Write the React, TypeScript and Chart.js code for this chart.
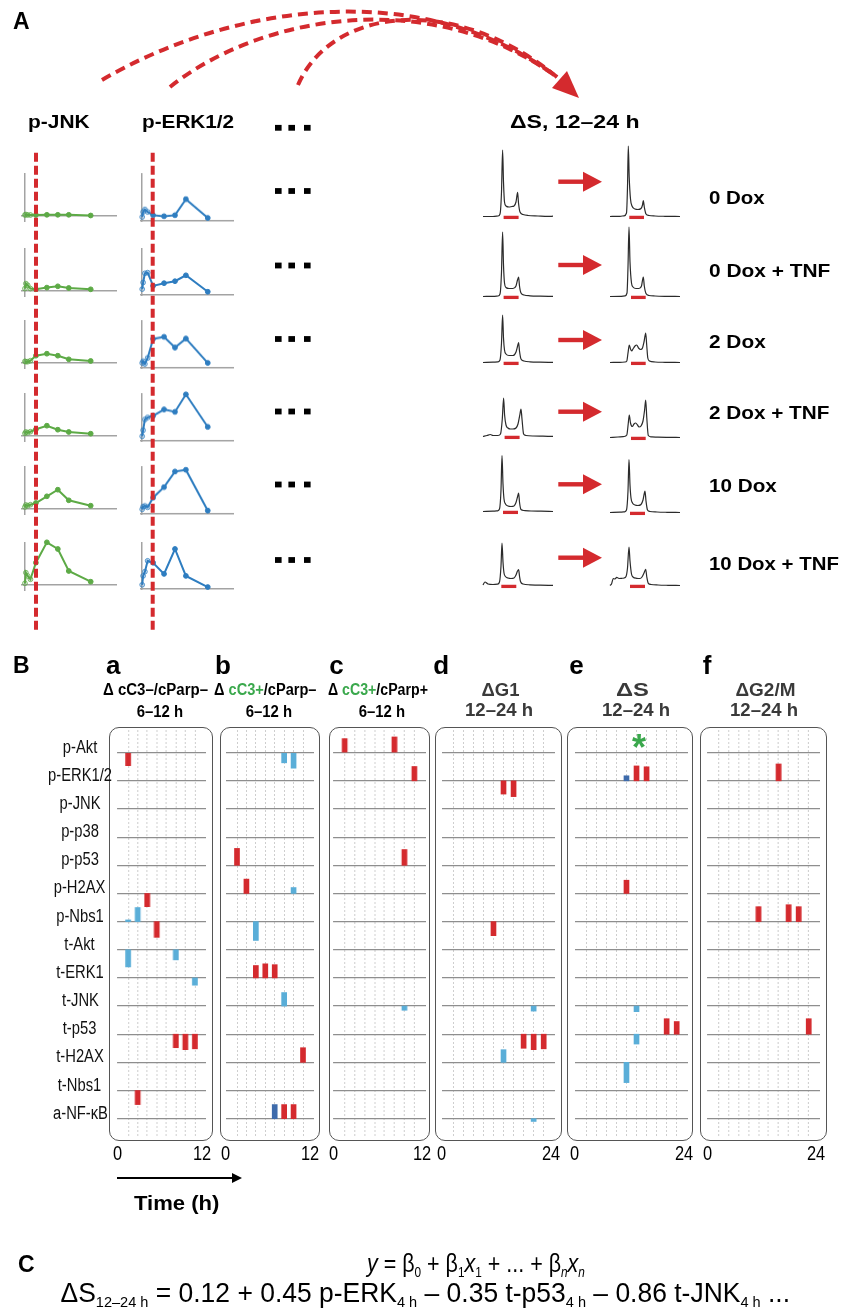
import React, { useEffect, useLayoutEffect, useRef } from "react";
import { Chart, registerables } from "chart.js";

Chart.register(...registerables);

// ---------------- colours ----------------
const RED = "#d42a2e";
const GREEN = "#5daa46";
const BLUE = "#2e7dc0";
const AXIS_GRAY = "#a3a3a3";
const LIGHT_BLUE = "#5aaed8";
const DARK_BLUE = "#3e6bab";
const TXT_GREEN = "#3aa84c";
const FONT = '"Liberation Sans", Arial, Helvetica, sans-serif';

// ---------------- Panel A : signalling time courses ----------------
const CONDITIONS = ["0 Dox", "0 Dox + TNF", "2 Dox", "2 Dox + TNF", "10 Dox", "10 Dox + TNF"];
const TIME_POS = [0, 0.083, 0.25, 0.5, 1, 2, 3, 4, 6];
const P_JNK = [
  [0.1, 0.15, 0.1, 0.1, 0.1, 0.12, 0.12, 0.12, 0.05],
  [0.24, 0.74, 0.57, 0.24, 0.17, 0.34, 0.47, 0.3, 0.17],
  [0.17, 0.13, 0.13, 0.23, 0.73, 0.93, 0.73, 0.37, 0.2],
  [0.27, 0.4, 0.33, 0.43, 0.67, 1.03, 0.63, 0.4, 0.23],
  [0.2, 0.4, 0.33, 0.43, 0.6, 1.27, 1.93, 0.87, 0.33],
  [0.17, 1.23, 0.9, 0.57, 2.23, 4.27, 3.6, 1.4, 0.33],
];
const P_ERK = [
  [0.4, 0.9, 1.14, 0.9, 0.57, 0.47, 0.57, 2.17, 0.3],
  [0.6, 1.27, 2.2, 2.27, 0.93, 1.2, 1.4, 2.0, 0.33],
  [0.5, 0.67, 0.4, 1.0, 2.9, 3.1, 2.03, 2.93, 0.5],
  [0.47, 1.07, 2.14, 2.34, 2.5, 3.14, 2.9, 4.64, 1.4],
  [0.47, 0.73, 0.8, 0.67, 1.63, 2.67, 4.23, 4.4, 0.33],
  [0.43, 1.33, 1.76, 2.86, 2.66, 1.53, 4.06, 1.33, 0.2],
];

// ---------------- Panel A : DNA-content histograms [DNA content, count] ----------------
const HIST_12H = [
  [[0,0.5],[10,0.5],[15,1],[17,3],[18.5,25],[19.6,67],[20.5,35],[21.5,15],[23,11],[26,10],[29,10.5],[31,11],[33,15],[34.6,24.6],[35.5,14],[37,5],[40,2.5],[45,1.5],[55,1],[65,0.6],[70,0.8]],
  [[0,0.5],[10,0.7],[15,1],[17,3],[18.5,25],[19.6,65],[20.5,32],[21.5,14],[23,9.5],[26,8.5],[30,8.5],[33,11],[34.5,17],[35.6,20],[36.5,11],[38,4],[41,2],[47,1.2],[57,0.8],[70,0.6]],
  [[0,0.5],[10,0.8],[15,1.2],[17,3],[18.5,20],[19.6,48],[20.5,25],[21.5,13],[23,9],[26,7.5],[30,7.5],[33,11],[34.6,17],[35.6,20.5],[36.5,12],[38,4],[41,2],[47,1.2],[57,0.8],[70,0.6]],
  [[0,0.5],[4,1.5],[7.3,2.5],[10,1.5],[15,1.5],[17.5,3],[19.3,18],[20.6,39],[21.6,22],[23,12],[25,9],[27.3,8],[30,8],[33,9],[35,13],[36.8,22],[38,28],[39,18],[40.6,3],[43,1.5],[50,1],[60,0.8],[70,0.6]],
  [[0,0.5],[10,0.8],[14.5,1.2],[16.5,3],[18,22],[19,56.5],[20,28],[21,13],[22.5,8],[25,6],[28,5.5],[31,6],[33,9.5],[34.5,15],[35.6,19],[36.6,9],[38,2.5],[41,1.5],[48,1],[58,0.8],[70,0.5]],
  [[0,1],[2,4],[5,2],[10,1.5],[14.5,1.8],[16.5,4],[18,20],[19,43],[20,24],[21,13],[22.5,9.5],[25,8],[28,7.5],[31,8],[33,11],[34.5,15],[35.6,16.5],[36.5,10],[37.5,4.5],[40,2],[47,1.2],[57,0.8],[70,0.6]],
];
const HIST_24H = [
  [[0,0.5],[10,0.7],[14,1.2],[16.5,4],[17.5,30],[18.3,71],[19.2,40],[20.5,18],[22,11],[25,8],[28,7.5],[31,8.5],[32.5,12],[33.3,16.5],[34.3,10],[36,3],[39,1.5],[45,1],[55,0.7],[70,0.5]],
  [[0,0.5],[10,0.6],[15,1.2],[17,4],[18,30],[19,70],[20,35],[21.5,14],[23,10],[26,8.5],[29,8.5],[31.5,11],[33.3,20],[34.3,11],[36,3.5],[39,1.5],[45,1],[55,0.7],[70,0.5]],
  [[0,0.5],[10,0.7],[15,1],[16.8,2],[18,10],[19.3,18],[20.5,14],[21.7,12],[23,14],[25,17],[26.7,18],[28.5,15],[30.7,13.5],[32.5,15],[34,21],[35.7,30],[36.7,18],[37.8,5],[39.5,2],[45,1],[55,0.7],[70,0.5]],
  [[0,0.5],[8,1],[14,1.5],[16.8,3],[18.2,14],[19.3,23],[20.5,15],[22.3,11.5],[24,14],[25.7,15],[27.5,13],[29,11],[31,12],[33,17],[34.6,28],[35.7,38],[36.8,20],[38.3,2.5],[41,1.2],[48,0.8],[58,0.6],[70,0.5]],
  [[0,0.5],[10,0.8],[14.5,1.2],[16.5,3],[18,22],[19,53.5],[20,28],[21,15],[22.5,10],[25,8],[28,7.5],[31,8.5],[33,13],[34.2,19],[35,22],[36,12],[37.5,3],[40,1.5],[47,1],[57,0.7],[70,0.5]],
  [[0,0.5],[1.5,2],[3.3,7.5],[5,7],[6.7,8.7],[9,7.5],[11.7,7.7],[14,8],[16,9.5],[17.5,18],[19,39],[20,25],[21.5,12],[23,9],[26.7,7.7],[30,7.5],[32,9],[34,13],[35.7,16.7],[36.8,9],[38.3,2.7],[41,1.5],[48,1],[58,0.7],[70,0.5]],
];
const S_GATE_12H = [[20.6,35.6],[20.6,35.6],[20.6,35.6],[21.6,36.6],[20,35],[18.3,33.3]];
const S_GATE_24H = [[19.3,34],[21,35.7],[21,35.7],[21,35.7],[20,35],[20,35]];

// ---------------- Panel B : regression coefficients ----------------
const ROW_LABELS = ["p-Akt","p-ERK1/2","p-JNK","p-p38","p-p53","p-H2AX","p-Nbs1","t-Akt","t-ERK1","t-JNK","t-p53","t-H2AX","t-Nbs1","a-NF-κB"];
const PANEL_LETTERS = ["a","b","c","d","e","f"];
const AXIS_END = ["12","12","12","24","24","24"];
const TIME_BINS = [8, 8, 8, 10, 10, 10];
// [row, time bin, coefficient (+ up / − down), colour: r red, b light blue, d dark blue]
const BARS_A = [[0,0,-0.46,"r"],[5,2,-0.47,"r"],[6,0,0.06,"b"],[6,1,0.5,"b"],[6,3,-0.56,"r"],[7,0,-0.61,"b"],[7,5,-0.36,"b"],[8,7,-0.26,"b"],[10,5,-0.48,"r"],[10,6,-0.55,"r"],[10,7,-0.52,"r"],[12,1,-0.5,"r"]];
const BARS_B = [[0,5,-0.36,"b"],[0,6,-0.55,"b"],[4,0,0.6,"r"],[5,1,0.51,"r"],[5,6,0.21,"b"],[6,2,-0.67,"b"],[8,2,0.44,"r"],[8,3,0.5,"r"],[8,4,0.47,"r"],[9,5,0.48,"b"],[11,7,0.52,"r"],[13,4,0.5,"d"],[13,5,0.5,"r"],[13,6,0.5,"r"]];
const BARS_C = [[0,0,0.5,"r"],[0,5,0.56,"r"],[1,7,0.51,"r"],[4,6,0.56,"r"],[9,6,-0.15,"b"]];
const BARS_D = [[1,5,-0.47,"r"],[1,6,-0.56,"r"],[6,4,-0.5,"r"],[9,8,-0.18,"b"],[10,7,-0.5,"r"],[10,8,-0.55,"r"],[10,9,-0.52,"r"],[11,5,0.45,"b"],[13,8,-0.1,"b"]];
const BARS_E = [[1,4,0.18,"d"],[1,5,0.53,"r"],[1,6,0.5,"r"],[5,4,0.47,"r"],[9,5,-0.2,"b"],[10,5,-0.35,"b"],[10,8,0.55,"r"],[10,9,0.45,"r"],[11,4,-0.72,"b"]];
const BARS_F = [[1,6,0.6,"r"],[6,4,0.53,"r"],[6,7,0.6,"r"],[6,8,0.53,"r"],[10,9,0.55,"r"]];
const ALL_BARS = [BARS_A, BARS_B, BARS_C, BARS_D, BARS_E, BARS_F];
const BAR_COLORS: any = { r: RED, b: LIGHT_BLUE, d: DARK_BLUE };

// ---------------- layout ----------------
const ROW_TOPS = [173, 247.7, 320, 393.3, 466, 541.7];
const HIST_BASE_L = [217.3, 296.7, 363.3, 437.3, 511.7, 586];
const HIST_BASE_R = [217.3, 296.7, 362.7, 438.3, 512.7, 586];
const LABEL_Y = [197.3, 270, 341.7, 412, 485.3, 563.7];
const LABEL_W = [56, 121, 57, 120, 67.5, 130];
const ARROW_Y = [181.7, 265, 340, 411.7, 484.3, 557.7];
const DOTS_Y = [191, 265.5, 339, 411.5, 484.5, 560];
const PLOTS = [[117.3, 206], [225.7, 314.3], [333.3, 426], [441.7, 555], [575, 688.3], [707.3, 820]];
const BOXES = [[109, 212.7], [220, 320], [329, 430], [435, 561.7], [567.3, 693.3], [700, 827.3]];
const LETTER_X = [106, 215, 329.3, 433.3, 569.3, 702.7];
const B_TOP = 730, B_BOTTOM = 1137, ROW0 = 752.7, ROW_PITCH = 28.15;

const baseOptions = (pad: number) => ({
  animation: false,
  responsive: false,
  maintainAspectRatio: false,
  events: [],
  layout: { padding: pad, autoPadding: false },
  plugins: { legend: { display: false }, tooltip: { enabled: false }, title: { display: false } },
});

function MiniChart({ left, top, width, height, make }: any) {
  const ref = useRef<HTMLCanvasElement>(null);
  useEffect(() => {
    const chart = new Chart(ref.current as HTMLCanvasElement, make());
    return () => chart.destroy();
  }, []);
  return <canvas ref={ref} width={width} height={height} style={{ position: "absolute", left, top, width, height }} />;
}

function Txt({ x, y, w, sx, size, bold = false, italic = false, color = "#000", align = "left", children }: any) {
  const ref = useRef<HTMLSpanElement>(null);
  useLayoutEffect(() => {
    const el = ref.current;
    if (!el) return;
    if (w) {
      const nat = el.offsetWidth;
      if (nat > 0) el.style.transform = `scaleX(${w / nat})`;
    } else if (sx) {
      el.style.transform = `scaleX(${sx})`;
    }
  }, []);
  const outer: any = {
    position: "absolute", top: y - size / 2, height: size, lineHeight: `${size}px`, fontSize: size,
    fontWeight: bold ? 700 : 400, fontStyle: italic ? "italic" : "normal", color, whiteSpace: "nowrap", fontFamily: FONT,
  };
  if (align === "center") { outer.left = x - 400; outer.width = 800; outer.textAlign = "center"; }
  else outer.left = x;
  return (
    <div style={outer}>
      <span ref={ref} style={{ display: "inline-block", transformOrigin: align === "center" ? "50% 50%" : "0 50%" }}>{children}</span>
    </div>
  );
}

const zeroOnly = (s: any) => { s.ticks = [{ value: 0 }]; };

function courseConfig(values: number[], color: string, fade: string, ring: string, xMin: number, yMin: number, yMax: number) {
  return {
    type: "line",
    data: {
      datasets: [{
        data: TIME_POS.map((t, i) => ({ x: t, y: values[i] })),
        borderColor: color, borderWidth: 2, tension: 0, clip: false,
        pointRadius: 2.4, pointBorderWidth: 1,
        pointBackgroundColor: TIME_POS.map((_, i) => (i < 4 ? fade : color)),
        pointBorderColor: TIME_POS.map((_, i) => (i < 4 ? ring : color)),
      }],
    },
    options: {
      ...baseOptions(4),
      scales: {
        x: { type: "linear", min: xMin, max: 8.4, afterBuildTicks: zeroOnly, ticks: { display: false }, grid: { drawTicks: false, color: AXIS_GRAY, lineWidth: 1.5 }, border: { display: false } },
        y: { type: "linear", min: yMin, max: yMax, afterBuildTicks: zeroOnly, ticks: { display: false }, grid: { drawTicks: false, color: AXIS_GRAY, lineWidth: 1.5 }, border: { display: false } },
      },
    },
  };
}

function histConfig(curve: number[][], gate: number[]) {
  return {
    type: "line",
    data: {
      datasets: [
        { data: gate.map((x) => ({ x, y: -0.4 })), borderColor: RED, borderWidth: 3.3, pointRadius: 0, clip: false, borderCapStyle: "butt" },
        { data: curve.map(([x, y]) => ({ x, y })), borderColor: "#2b2b2b", borderWidth: 1.2, pointRadius: 0, cubicInterpolationMode: "monotone", clip: false },
      ],
    },
    options: {
      ...baseOptions(4),
      scales: {
        x: { type: "linear", display: false, min: 0, max: 70 },
        y: { type: "linear", display: false, min: 0, max: 75 },
      },
    },
  };
}

function barConfig(bars: any[], nBins: number) {
  const yMin = -(ROW0 - B_TOP) / ROW_PITCH;
  const yMax = (B_BOTTOM - ROW0) / ROW_PITCH;
  return {
    type: "bar",
    data: {
      datasets: [{
        data: bars.map(([r, b, v]) => ({ x: b + 0.5, y: [r, r - v] })),
        backgroundColor: bars.map((b) => BAR_COLORS[b[3]]),
        borderWidth: 0, barThickness: 5, clip: false,
      }],
    },
    options: {
      ...baseOptions(3),
      scales: {
        x: {
          type: "linear", min: 0, max: nBins,
          afterBuildTicks: (s: any) => { s.ticks = Array.from({ length: nBins - 1 }, (_, i) => ({ value: i + 1 })); },
          ticks: { display: false }, grid: { drawTicks: false, color: "#c2c2c2", lineWidth: 0.8 },
          border: { display: false, dash: [2, 2] },
        },
        y: {
          type: "linear", reverse: true, min: yMin, max: yMax,
          afterBuildTicks: (s: any) => { s.ticks = ROW_LABELS.map((_, i) => ({ value: i })); },
          ticks: { display: false }, grid: { drawTicks: false, color: "#8e8e8e", lineWidth: 1.2 },
          border: { display: false },
        },
      },
    },
  };
}

const Sub = ({ children }: any) => (
  <sub style={{ fontSize: "0.55em", verticalAlign: "-0.32em", lineHeight: 0 }}>{children}</sub>
);

export default function App() {
  const charts: any[] = [];
  // Panel A time courses
  CONDITIONS.forEach((_, r) => {
    const top = ROW_TOPS[r];
    charts.push(
      <MiniChart key={`jnk${r}`} left={25 - 0.36 * 11 - 4} top={top - 4} width={8.76 * 11 + 8} height={49 + 8}
        make={() => courseConfig(P_JNK[r], GREEN, "rgba(93,170,70,0.25)", "rgba(93,170,70,0.75)", -0.36, -0.6, 4.3)} />
    );
    charts.push(
      <MiniChart key={`erk${r}`} left={141.7 - 0.2 * 11 - 4} top={top - 4} width={8.6 * 11 + 8} height={48.7 + 8}
        make={() => courseConfig(P_ERK[r], BLUE, "rgba(46,125,192,0.25)", "rgba(46,125,192,0.75)", -0.2, -0.1, 4.77)} />
    );
    charts.push(
      <MiniChart key={`h12${r}`} left={482.7 - 4} top={HIST_BASE_L[r] - 75 - 4} width={78} height={83}
        make={() => histConfig(HIST_12H[r], S_GATE_12H[r])} />
    );
    charts.push(
      <MiniChart key={`h24${r}`} left={610 - 4} top={HIST_BASE_R[r] - 75 - 4} width={78} height={83}
        make={() => histConfig(HIST_24H[r], S_GATE_24H[r])} />
    );
  });
  // Panel B
  ALL_BARS.forEach((bars, p) => {
    const [l, rr] = PLOTS[p];
    charts.push(
      <MiniChart key={`bar${p}`} left={l - 3} top={B_TOP - 3} width={rr - l + 6} height={B_BOTTOM - B_TOP + 6}
        make={() => barConfig(bars, TIME_BINS[p])} />
    );
  });

  const arrowHead = (y: number) => `583,${y - 10} 602,${y} 583,${y + 10}`;

  return (
    <div style={{ position: "absolute", left: 0, top: 0, width: 844, height: 1316, background: "#fff", overflow: "hidden", fontFamily: FONT }}>
      {BOXES.map(([l, r], i) => (
        <div key={`box${i}`} style={{ position: "absolute", left: l, top: 727.3, width: r - l, height: 1141 - 727.3, border: "1.6px solid #555", borderRadius: 10, boxSizing: "border-box" }} />
      ))}
      {charts}
      <svg width={844} height={1316} style={{ position: "absolute", left: 0, top: 0, pointerEvents: "none" }}>
        <g fill="none" stroke={RED} strokeWidth={4} strokeDasharray="10 6">
          <path d="M102 80 C230 5, 420 -25, 557 77" />
          <path d="M170 87 C260 15, 430 -15, 557 77" />
          <path d="M298 85 C330 10, 450 -10, 557 77" />
        </g>
        <polygon points="579,98 552,88 567,71" fill={RED} />
        <g stroke={RED} strokeWidth={4} strokeDasharray="9 4">
          <line x1={36} y1={152.7} x2={36} y2={630} />
          <line x1={152.7} y1={152.7} x2={152.7} y2={630} />
        </g>
        {[127.8, ...DOTS_Y].map((y, i) => (
          <g key={`dots${i}`} fill="#000">
            <rect x={275} y={y - 2.9} width={6.6} height={5.8} />
            <rect x={288.4} y={y - 2.9} width={6.6} height={5.8} />
            <rect x={304} y={y - 2.9} width={6.6} height={5.8} />
          </g>
        ))}
        {ARROW_Y.map((y, i) => (
          <g key={`arr${i}`} fill={RED}>
            <rect x={558.3} y={y - 2.2} width={26} height={4.4} />
            <polygon points={arrowHead(y)} />
          </g>
        ))}
        <line x1={117} y1={1178} x2={234} y2={1178} stroke="#000" strokeWidth={2.2} />
        <polygon points="232,1173 242,1178 232,1183" fill="#000" />
      </svg>

      {/* Panel A text */}
      <Txt x={13} y={21.7} size={23} bold>A</Txt>
      <Txt x={28.3} y={121.7} size={19} bold w={61.7}>p-JNK</Txt>
      <Txt x={141.7} y={121.7} size={19} bold w={91.6}>p-ERK1/2</Txt>
      <Txt x={510} y={121.7} size={19} bold w={130}>ΔS, 12–24 h</Txt>
      {CONDITIONS.map((c, i) => (
        <Txt key={`cond${i}`} x={709} y={LABEL_Y[i]} size={19} bold w={LABEL_W[i]}>{c}</Txt>
      ))}

      {/* Panel B text */}
      <Txt x={13} y={665} size={23} bold>B</Txt>
      {PANEL_LETTERS.map((l, i) => (
        <Txt key={`let${i}`} x={LETTER_X[i]} y={664.5} size={26} bold>{l}</Txt>
      ))}
      <Txt x={103.3} y={690} size={16} bold w={105}>Δ cC3–/cParp–</Txt>
      <Txt x={214} y={690} size={16} bold w={102}>Δ <span style={{ color: TXT_GREEN }}>cC3+</span>/cParp–</Txt>
      <Txt x={328.3} y={690} size={16} bold w={100}>Δ <span style={{ color: TXT_GREEN }}>cC3+</span>/cParp+</Txt>
      <Txt x={160} y={711.7} size={16} bold align="center" w={46.6}>6–12 h</Txt>
      <Txt x={268.7} y={711.7} size={16} bold align="center" w={46.6}>6–12 h</Txt>
      <Txt x={382} y={711.7} size={16} bold align="center" w={46.6}>6–12 h</Txt>
      <Txt x={500.7} y={689.7} size={18} bold align="center" color="#3a3a3a" w={38}>ΔG1</Txt>
      <Txt x={499} y={710.3} size={18} bold align="center" color="#3a3a3a" w={68}>12–24 h</Txt>
      <Txt x={632.5} y={689.7} size={18} bold align="center" color="#3a3a3a" w={33}>ΔS</Txt>
      <Txt x={635.8} y={710.3} size={18} bold align="center" color="#3a3a3a" w={68}>12–24 h</Txt>
      <Txt x={765} y={689.7} size={18} bold align="center" color="#3a3a3a" w={60}>ΔG2/M</Txt>
      <Txt x={764} y={710.3} size={18} bold align="center" color="#3a3a3a" w={68}>12–24 h</Txt>
      <Txt x={639} y={747.6} size={36} bold align="center" color={TXT_GREEN}>*</Txt>
      {ROW_LABELS.map((l, i) => (
        <Txt key={`row${i}`} x={80} y={ROW0 - 6 + ROW_PITCH * i} size={18} sx={0.82} align="center" color="#111">{l}</Txt>
      ))}
      {PLOTS.map(([l, r], i) => (
        <React.Fragment key={`tick${i}`}>
          <Txt x={l} y={1153} size={20} sx={0.82} align="center">0</Txt>
          <Txt x={r - 4} y={1153} size={20} sx={0.82} align="center">{AXIS_END[i]}</Txt>
        </React.Fragment>
      ))}
      <Txt x={177} y={1203} size={20} bold align="center" w={85}>Time (h)</Txt>

      {/* Panel C */}
      <Txt x={18} y={1264} size={23} bold>C</Txt>
      <Txt x={476} y={1263} size={26} align="center" w={218}>
        <i>y</i> = β<Sub>0</Sub> + β<Sub>1</Sub><i>x</i><Sub>1</Sub> + ... + β<Sub><i>n</i></Sub><i>x</i><Sub><i>n</i></Sub>
      </Txt>
      <Txt x={425} y={1293} size={27} align="center" w={730}>
        ΔS<Sub>12–24 h</Sub> = 0.12 + 0.45 p-ERK<Sub>4 h</Sub> – 0.35 t-p53<Sub>4 h</Sub> – 0.86 t-JNK<Sub>4 h</Sub> ...
      </Txt>
    </div>
  );
}
